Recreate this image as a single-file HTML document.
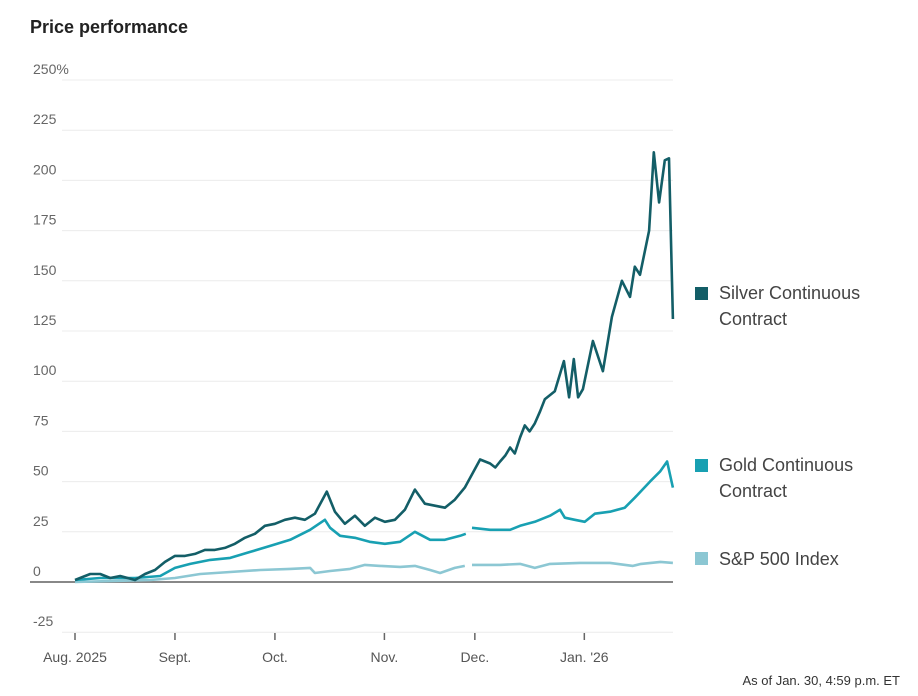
<!DOCTYPE html>
<html><head><meta charset="utf-8">
<style>
html,body{margin:0;padding:0;background:#fff;}
body{width:918px;height:691px;overflow:hidden;font-family:"Liberation Sans",sans-serif;}
svg text{font-family:"Liberation Sans",sans-serif;}
</style></head>
<body>
<svg id="chart" width="918" height="691">
<text x="30" y="33" font-size="18" font-weight="bold" fill="#222">Price performance</text>
<g id="grid"></g>
<g id="series"></g>
<g>
 <rect x="695" y="287" width="13" height="13" fill="#135e67"/>
 <text x="719" y="299" font-size="18" fill="#444">Silver Continuous</text>
 <text x="719" y="325" font-size="18" fill="#444">Contract</text>
 <rect x="695" y="459" width="13" height="13" fill="#18a0b2"/>
 <text x="719" y="471" font-size="18" fill="#444">Gold Continuous</text>
 <text x="719" y="497" font-size="18" fill="#444">Contract</text>
 <rect x="695" y="552" width="13" height="13" fill="#8cc7d3"/>
 <text x="719" y="565" font-size="18" fill="#444">S&amp;P 500 Index</text>
</g>
<text x="900" y="685" font-size="13" fill="#333" text-anchor="end">As of Jan. 30, 4:59 p.m. ET</text>
</svg>
<script>
const yTicks=[250,225,200,175,150,125,100,75,50,25,0,-25];
const yTickLabels=["250%","225","200","175","150","125","100","75","50","25","0","-25"];
const xTickDays=[0,21,42,65,84,107];
const xTickLabels=["Aug. 2025","Sept.","Oct.","Nov.","Dec.","Jan. '26"];
const silverDays=[0,3.2,5.3,7.4,9.5,12.6,14.7,16.8,18.9,21,23.1,25.2,27.3,29.4,31.5,33.6,35.7,37.8,39.9,42,44.1,46.2,48.3,50.4,52.9,54.6,56.7,58.8,60.9,63,65.1,67.2,69.3,71.4,73.5,75.6,77.7,79.8,81.9,85.1,87.2,88.3,89.3,90.4,91.4,92.4,93.5,94.5,95.5,96.6,97.7,98.7,100.8,102.7,103.8,104.8,105.7,106.7,108.8,110.9,112.8,114.9,116.6,117.6,118.7,120.6,121.6,122.7,123.9,124.8,125.6];
const silverValues=[1,4,4,2,3,1,4,6,10,13,13,14,16,16,17,19,22,24,28,29,31,32,31,34,45,35,29,33,28,32,30,31,36,46,39,38,37,41,47,61,59,57,60,63,67,64,72,78,75,79,85,91,95,110,92,111,92,96,120,105,132,150,142,157,153,175,214,189,210,211,131];
const goldDays=[0,5.3,12.6,17.9,21,24.2,28.4,32.6,36.8,41,45.2,49.4,52.5,53.6,55.7,58.8,61.9,65.1,68.3,71.4,74.6,77.7,80.9,82.1,82.6,83.4,87.2,91.4,93.5,96.6,99.8,101.9,102.9,105,107.1,109.2,112.4,115.5,117.6,120.8,122.9,124.4,125.6];
const goldValues=[1,2,2,3,7,9,11,12,15,18,21,26,31,27,23,22,20,19,20,25,21,21,23,24,null,27,26,26,28,30,33,36,32,31,30,34,35,37,42,50,55,60,47];
const spDays=[0,15.8,21,26.3,32.6,38.9,45.2,49.4,50.4,53.6,57.8,60.9,64.1,68.3,71.4,74.6,76.7,79.8,81.9,82.6,83.4,89.3,93.5,96.6,99.8,106.1,112.4,117.2,118.9,123,125.6];
const spValues=[0,1,2,4,5,6,6.5,7,4.5,5.5,6.5,8.5,8,7.5,8,6,4.5,7,8,null,8.5,8.5,9,7,9,9.5,9.5,8,9,10,9.5];

const NS="http://www.w3.org/2000/svg";
const xPos=d=>75+d*4.76;
const yPos=v=>582-v*2.008;
const grid=document.getElementById('grid');
yTicks.forEach((t,i)=>{
  const l=document.createElementNS(NS,'line');
  l.setAttribute('x1',t===0?30:62);l.setAttribute('x2',673);
  l.setAttribute('y1',yPos(t));l.setAttribute('y2',yPos(t));
  l.setAttribute('stroke',t===0?'#888':'#ececec');l.setAttribute('stroke-width',t===0?2:1);
  
  
  grid.appendChild(l);
  const tx=document.createElementNS(NS,'text');
  tx.setAttribute('x',33);tx.setAttribute('y',yPos(t)-6);
  tx.setAttribute('font-size','14');tx.setAttribute('fill','#666');
  tx.textContent=yTickLabels[i];
  
  
  grid.appendChild(tx);
});
xTickDays.forEach((d,i)=>{
  const l=document.createElementNS(NS,'line');
  l.setAttribute('x1',xPos(d));l.setAttribute('x2',xPos(d));
  l.setAttribute('y1',633);l.setAttribute('y2',640);
  l.setAttribute('stroke','#666');l.setAttribute('stroke-width',1.5);
  
  
  grid.appendChild(l);
  const tx=document.createElementNS(NS,'text');
  tx.setAttribute('x',xPos(d));tx.setAttribute('y',662);
  tx.setAttribute('font-size','14');tx.setAttribute('fill','#555');
  tx.setAttribute('text-anchor','middle');
  tx.textContent=xTickLabels[i];
  
  
  grid.appendChild(tx);
});
const series=document.getElementById('series');
function draw(days,vals,color,name){
  let d='',pen=false;
  days.forEach((day,i)=>{
    const v=vals[i];
    if(v===null||v===undefined){pen=false;return;}
    d+=(pen?'L':'M')+xPos(day).toFixed(1)+' '+yPos(v).toFixed(1)+' ';
    pen=true;
  });
  const p=document.createElementNS(NS,'path');
  p.setAttribute('d',d);p.setAttribute('fill','none');
  p.setAttribute('stroke',color);p.setAttribute('stroke-width',2.6);
  p.setAttribute('stroke-linejoin','round');
  
  
  series.appendChild(p);
}
draw(spDays,spValues,'#8cc7d3','sp500-line');
draw(goldDays,goldValues,'#18a0b2','gold-line');
draw(silverDays,silverValues,'#135e67','silver-line');
</script>
</body></html>
